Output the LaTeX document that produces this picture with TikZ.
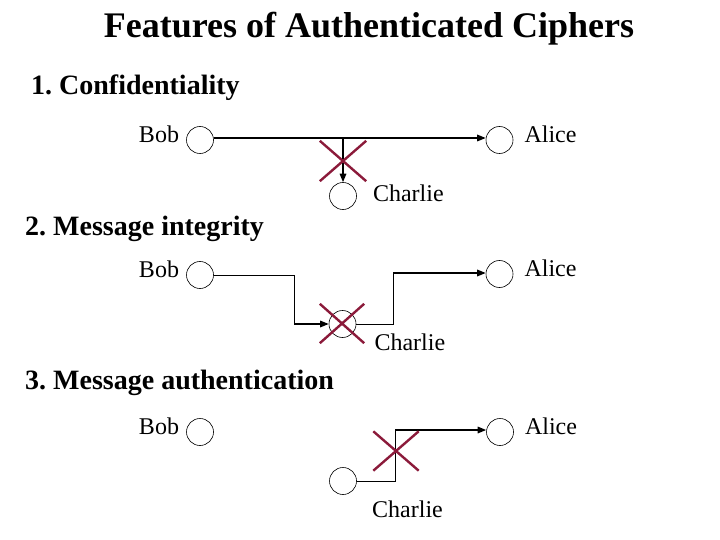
\documentclass[tikz,border=0pt]{standalone}
\usepackage{fontspec}
\setmainfont{Liberation Serif}
\usepackage{tikz}
\usetikzlibrary{positioning,calc,shapes.misc}
\usetikzlibrary{arrows.meta}

\definecolor{xred}{RGB}{139,26,58}
\frenchspacing

\begin{document}
\begin{tikzpicture}[
  x = 1pt,
  y = -1pt,
  party/.style = {
    draw,
    circle,
    line width = 0.6pt,
    minimum size = 27pt,
    inner sep = 0pt,
  },
  lbl/.style = {
    inner sep = 0pt,
    font = \fontsize{24}{28}\selectfont,
  },
  head/.style = {
    anchor = base west,
    inner sep = 0pt,
    font = \bfseries\fontsize{28}{32}\selectfont,
  },
  block/.style = {
    draw = xred,
    cross out,
    line width = 2.4pt,
    inner sep = 0pt,
  },
  wire/.style = {line width = 0.8pt},
  msg/.style = {line width = 1.5pt, -{Triangle[length=8.5pt,width=6.5pt]}},
]

  \useasboundingbox (0,0) rectangle (720,540);

  \node[anchor=base, inner sep=0pt, font=\bfseries\fontsize{36}{40}\selectfont]
    (title) at (369,38) {Features of Authenticated Ciphers};

  % 1. confidentiality
  \node[head] (h1) at (31,95) {1. Confidentiality};
  \node[party] (bob1) at (200,140) {};
  \node[party] (alice1) at (499.5,140) {};
  \node[party] (charlie1) at (343,196) {};
  \node[lbl] (boblbl1) [left=7pt of bob1, yshift=6pt] {Bob};
  \node[lbl] (alicelbl1) [right=11pt of alice1, yshift=6pt] {Alice};
  \node[lbl] (charlielbl1) [right=16pt of charlie1, yshift=3pt] {Charlie};
  \draw[msg] (bob1.east |- 0,138) -- (alice1.west |- 0,138);
  \draw[msg] (charlie1 |- 0,138) -- (charlie1);
  \node[block, minimum width=44pt, minimum height=38pt] (x1) at (343,161) {};

  % 2. message integrity
  \node[head] (h2) at (25,236) {2. Message integrity};
  \node[party] (bob2) at (200,275) {};
  \node[party] (alice2) at (499.5,274) {};
  \node[party] (charlie2) at (342.5,324) {};
  \node[lbl] (boblbl2) [left=7pt of bob2, yshift=6pt] {Bob};
  \node[lbl] (alicelbl2) [right=11pt of alice2, yshift=6pt] {Alice};
  \node[lbl] (charlielbl2) [right=18pt of charlie2, yshift=-18.5pt] {Charlie};
  \coordinate (bend21) at (294,324);
  \coordinate (bend22) at (393,273);
  \draw[wire] (bob2.east) -| (bend21);
  \draw[msg] (bend21) -- (charlie2.west);
  \draw[wire] (charlie2.east) -| (bend22);
  \draw[msg] (bend22) -- (alice2.west |- bend22);
  \node[block, minimum width=42pt, minimum height=37pt] (x2) at (342,323.5) {};

  % 3. message authentication
  \node[head] (h3) at (25,389) {3. Message authentication};
  \node[party] (bob3) at (200,432) {};
  \node[party] (alice3) at (500,432) {};
  \node[party] (charlie3) at (343,481) {};
  \node[lbl] (boblbl3) [left=7pt of bob3, yshift=6pt] {Bob};
  \node[lbl] (alicelbl3) [right=11pt of alice3, yshift=6pt] {Alice};
  \node[lbl] (charlielbl3) [below=6pt of charlie3, xshift=64.5pt] {Charlie};
  \coordinate (bend31) at (395,430);
  \draw[wire] (charlie3.east) -| (bend31);
  \draw[msg] (bend31) -- (alice3.west |- bend31);
  \node[block, minimum width=43pt, minimum height=37pt] (x3) at (396,451) {};
\end{tikzpicture}
\end{document}
